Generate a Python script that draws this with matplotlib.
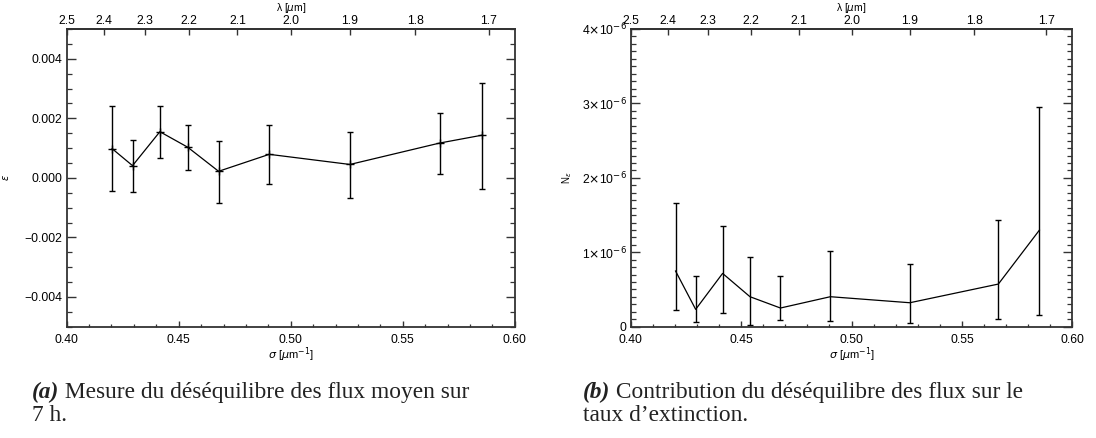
import matplotlib
matplotlib.use('Agg')
import matplotlib.pyplot as plt
from matplotlib.ticker import MultipleLocator, FixedLocator, FixedFormatter

# nombres d'onde sigma [um^-1]
sigma = [0.4203, 0.4294, 0.4416, 0.4540, 0.4678, 0.4904, 0.5264, 0.5665, 0.5851]

# (a) desequilibre des flux moyen epsilon, avec barres d'erreur (bas / haut)
eps = [0.00098, 0.00041, 0.00155, 0.00103, 0.00022, 0.00079, 0.00045, 0.00117, 0.00143]
eps_lo = [-0.00043, -0.00048, 0.00067, 0.00025, -0.00085, -0.00020, -0.00068, 0.00012, -0.00036]
eps_hi = [0.00240, 0.00127, 0.00242, 0.00176, 0.00125, 0.00179, 0.00155, 0.00218, 0.00320]

# (b) contribution N_eps sur le taux d'extinction
neps = [0.748e-6, 0.233e-6, 0.716e-6, 0.403e-6, 0.251e-6, 0.403e-6, 0.322e-6, 0.573e-6, 1.298e-6]
neps_lo = [0.224e-6, 0.058e-6, 0.184e-6, 0.020e-6, 0.090e-6, 0.080e-6, 0.054e-6, 0.107e-6, 0.153e-6]
neps_hi = [1.660e-6, 0.680e-6, 1.350e-6, 0.940e-6, 0.680e-6, 1.020e-6, 0.837e-6, 1.428e-6, 2.950e-6]

lam_ticks = [2.5, 2.4, 2.3, 2.2, 2.1, 2.0, 1.9, 1.8, 1.7]
x_ticks = [0.40, 0.45, 0.50, 0.55, 0.60]
eps_ticks = [-0.004, -0.002, 0.000, 0.002, 0.004]
eps_labels = ['\u22120.004', '\u22120.002', '0.000', '0.002', '0.004']
neps_ticks = [0, 1e-6, 2e-6, 3e-6, 4e-6]
neps_labels = ['0', r'1$\times$10$^{-6}$', r'2$\times$10$^{-6}$',
               r'3$\times$10$^{-6}$', r'4$\times$10$^{-6}$']

plt.rcParams['font.family'] = ['Liberation Sans', 'DejaVu Sans']
plt.rcParams['mathtext.fontset'] = 'dejavusans'
tick_fs = 8.8
axcol = '#333333'

fig = plt.figure(figsize=(10.96, 4.38), dpi=100)
ax1 = fig.add_axes([0.0608, 0.2541, 0.4090, 0.6797])
ax2 = fig.add_axes([0.5755, 0.2541, 0.4029, 0.6797])


def style_axes(ax):
    for sp in ax.spines.values():
        sp.set_linewidth(1.3)
        sp.set_color(axcol)
    ax.set_xlim(0.40, 0.60)
    ax.xaxis.set_major_locator(FixedLocator(x_ticks))
    ax.xaxis.set_major_formatter(FixedFormatter(['%.2f' % v for v in x_ticks]))
    ax.xaxis.set_minor_locator(MultipleLocator(0.01))
    ax.tick_params(axis='x', which='major', direction='in', length=4.3, width=1.0,
                   top=False, bottom=True, labelsize=tick_fs, pad=5, color=axcol)
    ax.tick_params(axis='x', which='minor', direction='in', length=2.2, width=0.9,
                   top=False, bottom=True, color=axcol)
    ax.tick_params(axis='y', which='major', direction='in', length=6.5, width=1.0,
                   left=True, right=True, labelsize=tick_fs, pad=3, color=axcol)
    ax.tick_params(axis='y', which='minor', direction='in', length=3.6, width=0.9,
                   left=True, right=True, color=axcol)
    ax.set_xlabel(r'$\sigma$ [$\mu$m$^{-1}$]', fontsize=8, labelpad=0)
    top = ax.secondary_xaxis('top', functions=(lambda s: 1.0 / s, lambda l: 1.0 / l))
    top.set_xticks(lam_ticks)
    top.set_xticklabels(['%.1f' % v for v in lam_ticks])
    top.xaxis.set_minor_locator(FixedLocator([]))
    top.tick_params(axis='x', which='major', direction='in', length=4.3, width=1.0,
                    labelsize=tick_fs, pad=1.5, color=axcol)
    top.spines['top'].set_linewidth(1.3)
    top.spines['top'].set_color(axcol)
    top.set_xlabel('\u03bb [$\\mu$m]', fontsize=7.5, labelpad=2.5)


def err_bars(ax, x, y, lo, hi):
    yerr = [[yv - l for yv, l in zip(y, lo)], [h - yv for yv, h in zip(y, hi)]]
    ax.errorbar(x, y, yerr=yerr, fmt='none', ecolor='black', elinewidth=1.0,
                capsize=2.2, capthick=1.0)


# (a)
style_axes(ax1)
ax1.set_ylim(-0.005, 0.005)
ax1.yaxis.set_major_locator(FixedLocator(eps_ticks))
ax1.yaxis.set_major_formatter(FixedFormatter(eps_labels))
ax1.yaxis.set_minor_locator(MultipleLocator(0.0005))
ax1.plot(sigma, eps, color='black', lw=0.9, marker='+', ms=6, mew=1.0)
err_bars(ax1, sigma, eps, eps_lo, eps_hi)
ax1.set_ylabel(r'$\epsilon$', fontsize=7)
ax1.yaxis.set_label_coords(-0.125, 0.5)

# (b)
style_axes(ax2)
ax2.set_ylim(0, 4e-6)
ax2.yaxis.set_major_locator(FixedLocator(neps_ticks))
ax2.yaxis.set_major_formatter(FixedFormatter(neps_labels))
ax2.yaxis.set_minor_locator(MultipleLocator(1e-7))
ax2.plot(sigma, neps, color='black', lw=0.9)
err_bars(ax2, sigma, neps, neps_lo, neps_hi)
ax2.set_ylabel(r'N$_\epsilon$', fontsize=7)
ax2.yaxis.set_label_coords(-0.128, 0.5)

# legendes sous les figures
cap_fs = 16.8
serif = ['Liberation Serif', 'DejaVu Serif']
captions = [
    (32, '(a)', ' Mesure du déséquilibre des flux moyen sur', '7 h.'),
    (583, '(b)', ' Contribution du déséquilibre des flux sur le', 'taux d\u2019extinction.'),
]
for x0, tag, line1, line2 in captions:
    t = fig.text(x0 / 1096, 1 - 398 / 438, tag, fontsize=cap_fs, family=serif,
                 weight='bold', style='italic', va='baseline', color='#222222')
    fig.add_artist(plt.Annotation(line1, xy=(1, 0), xycoords=t, va='bottom',
                                  fontsize=cap_fs, family=serif, color='#222222'))
    fig.text(x0 / 1096, 1 - 421 / 438, line2, fontsize=cap_fs, family=serif,
             va='baseline', color='#222222')

fig.savefig('out.png', dpi=100)
